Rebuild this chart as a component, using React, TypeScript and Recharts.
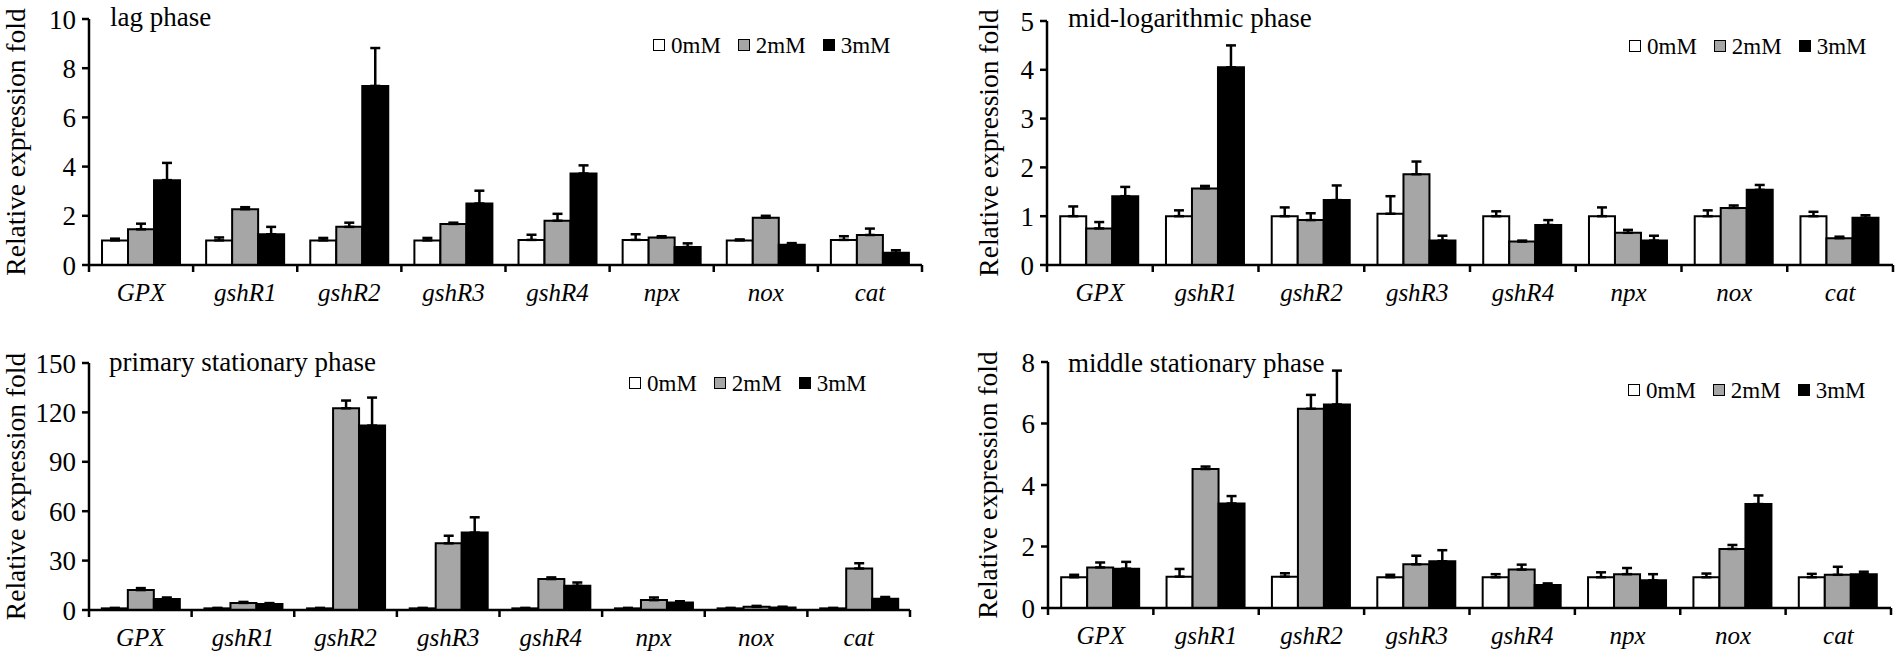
import React from 'react';
import { BarChart, Bar, XAxis, YAxis, ErrorBar, Label } from 'recharts';

const FONT = '"Liberation Serif", "Times New Roman", serif';

const genes = ['GPX', 'gshR1', 'gshR2', 'gshR3', 'gshR4', 'npx', 'nox', 'cat'];
const doses = ['0mM', '2mM', '3mM'];

// lag phase
const lag0 = [1.0, 1.0, 1.0, 1.0, 1.02, 1.02, 1.0, 1.02];
const lag0Err = [0.07, 0.12, 0.1, 0.1, 0.21, 0.23, 0.04, 0.15];
const lag2 = [1.45, 2.27, 1.55, 1.67, 1.8, 1.12, 1.92, 1.22];
const lag2Err = [0.23, 0.08, 0.17, 0.05, 0.28, 0.05, 0.08, 0.26];
const lag3 = [3.45, 1.25, 7.28, 2.5, 3.72, 0.73, 0.82, 0.5];
const lag3Err = [0.7, 0.3, 1.54, 0.52, 0.33, 0.15, 0.07, 0.1];

// mid-logarithmic phase
const mid0 = [1.0, 1.0, 1.0, 1.05, 1.0, 1.0, 1.0, 1.0];
const mid0Err = [0.2, 0.12, 0.18, 0.36, 0.1, 0.18, 0.12, 0.09];
const mid2 = [0.75, 1.57, 0.92, 1.86, 0.48, 0.66, 1.17, 0.55];
const mid2Err = [0.13, 0.05, 0.14, 0.26, 0.02, 0.06, 0.05, 0.03];
const mid3 = [1.41, 4.05, 1.33, 0.5, 0.82, 0.5, 1.54, 0.97];
const mid3Err = [0.19, 0.45, 0.3, 0.1, 0.1, 0.1, 0.1, 0.05];

// primary stationary phase
const pri0 = [1.0, 1.0, 1.0, 1.0, 1.0, 1.0, 1.0, 1.0];
const pri0Err = [0.3, 0.3, 0.3, 0.3, 0.3, 0.3, 0.3, 0.3];
const pri2 = [12.1, 4.3, 122.5, 40.5, 18.8, 6.0, 1.9, 25.2];
const pri2Err = [1.2, 0.6, 4.7, 4.6, 1.0, 1.6, 0.6, 3.2];
const pri3 = [6.7, 3.6, 112, 47, 14.7, 4.5, 1.5, 6.9];
const pri3Err = [0.9, 0.6, 17, 9.3, 2.0, 0.8, 0.5, 1.0];

// middle stationary phase
const sta0 = [1.0, 1.02, 1.02, 1.0, 1.0, 1.0, 1.0, 1.0];
const sta0Err = [0.08, 0.25, 0.11, 0.08, 0.1, 0.16, 0.12, 0.11];
const sta2 = [1.32, 4.52, 6.48, 1.42, 1.25, 1.1, 1.92, 1.08];
const sta2Err = [0.16, 0.08, 0.45, 0.28, 0.16, 0.2, 0.13, 0.26];
const sta3 = [1.28, 3.4, 6.62, 1.52, 0.75, 0.9, 3.38, 1.1];
const sta3Err = [0.22, 0.24, 1.1, 0.36, 0.05, 0.2, 0.28, 0.08];

const fills = ['#ffffff', '#a6a6a6', '#000000'];

const panels = [
  {
    title: 'lag phase', values: [lag0, lag2, lag3], errors: [lag0Err, lag2Err, lag3Err],
    max: 10, ticks: [0, 2, 4, 6, 8, 10],
    left: 0, top: 0, width: 950, height: 330, axisWidth: 89, labelOffset: 15,
    margin: { top: 19, right: 28, bottom: 25, left: 0 },
    titlePos: [110, 27], legendPos: [653, 45],
  },
  {
    title: 'mid-logarithmic phase', values: [mid0, mid2, mid3], errors: [mid0Err, mid2Err, mid3Err],
    max: 5, ticks: [0, 1, 2, 3, 4, 5],
    left: 960, top: 0, width: 942, height: 330, axisWidth: 87, labelOffset: 28,
    margin: { top: 21, right: 9, bottom: 25, left: 0 },
    titlePos: [1068, 28], legendPos: [1629, 46],
  },
  {
    title: 'primary stationary phase', values: [pri0, pri2, pri3], errors: [pri0Err, pri2Err, pri3Err],
    max: 150, ticks: [0, 30, 60, 90, 120, 150],
    left: 0, top: 330, width: 950, height: 326, axisWidth: 89, labelOffset: 15,
    margin: { top: 33, right: 40, bottom: 6, left: 0 },
    titlePos: [109, 372], legendPos: [629, 383],
  },
  {
    title: 'middle stationary phase', values: [sta0, sta2, sta3], errors: [sta0Err, sta2Err, sta3Err],
    max: 8, ticks: [0, 2, 4, 6, 8],
    left: 960, top: 330, width: 942, height: 326, axisWidth: 88, labelOffset: 27,
    margin: { top: 32, right: 11, bottom: 8, left: 0 },
    titlePos: [1068, 373], legendPos: [1628, 390],
  },
];

// category label plus boundary tick marks between genes
const GeneTick = (props: any) => {
  const { x, y, payload, index, visibleTicksCount } = props;
  const half = payload && payload.offset ? payload.offset : 52;
  const last = index === (visibleTicksCount || genes.length) - 1;
  return (
    <g>
      <line x1={x - half} x2={x - half} y1={y - 9} y2={y - 2} stroke="#000" strokeWidth={2.5} />
      {last && <line x1={x + half} x2={x + half} y1={y - 9} y2={y - 2} stroke="#000" strokeWidth={2.5} />}
      <text x={x} y={y + 27} textAnchor="middle" fontSize={25} fontStyle="italic" fontFamily={FONT} fill="#000">
        {payload.value}
      </text>
    </g>
  );
};

const Legend = ({ pos }: { pos: number[] }) => (
  <div style={{ position: 'absolute', left: pos[0], top: pos[1] - 12, height: 24, display: 'flex', alignItems: 'center', fontFamily: FONT, fontSize: 23, lineHeight: 1 }}>
    {doses.map((d, i) => (
      <div key={d} style={{ display: 'flex', alignItems: 'center', marginRight: i < doses.length - 1 ? 17 : 0 }}>
        <div style={{ width: 12, height: 12, boxSizing: 'border-box', border: '1.5px solid #000', background: fills[i], marginRight: 6 }} />
        <span>{d}</span>
      </div>
    ))}
  </div>
);

const Panel = ({ cfg }: { cfg: any }) => {
  const data = genes.map((g, i) => ({
    gene: g,
    c0: cfg.values[0][i], c1: cfg.values[1][i], c2: cfg.values[2][i],
    e0: [0, cfg.errors[0][i]], e1: [0, cfg.errors[1][i]], e2: [0, cfg.errors[2][i]],
  }));
  return (
    <>
      <div style={{ position: 'absolute', left: cfg.left, top: cfg.top }}>
        <BarChart width={cfg.width} height={cfg.height} data={data} margin={cfg.margin} barCategoryGap="12.5%" barGap={0}>
          <XAxis
            dataKey="gene"
            interval={0}
            height={40}
            tickLine={false}
            tickSize={7}
            tickMargin={2}
            axisLine={{ stroke: '#000', strokeWidth: 2.5 }}
            tick={<GeneTick />}
          />
          <YAxis
            width={cfg.axisWidth}
            domain={[0, cfg.max]}
            ticks={cfg.ticks}
            interval={0}
            allowDataOverflow
            tickSize={7}
            tickMargin={6}
            axisLine={{ stroke: '#000', strokeWidth: 2.5 }}
            tickLine={{ stroke: '#000', strokeWidth: 2.5 }}
            tick={{ fill: '#000', fontSize: 27, fontFamily: FONT }}
          >
            <Label
              value="Relative expression fold"
              angle={-90}
              position="insideLeft"
              offset={cfg.labelOffset}
              style={{ textAnchor: 'middle', fontSize: 27.5, fontFamily: FONT, fill: '#000' }}
            />
          </YAxis>
          {[0, 1, 2].map((k) => (
            <Bar key={k} dataKey={'c' + k} fill={fills[k]} stroke="#000" strokeWidth={2} isAnimationActive={false}>
              <ErrorBar dataKey={'e' + k} width={5} stroke="#000" strokeWidth={2.5} direction="y" />
            </Bar>
          ))}
        </BarChart>
      </div>
      <div style={{ position: 'absolute', left: cfg.titlePos[0], top: cfg.titlePos[1] - 22.6, fontFamily: FONT, fontSize: 27, lineHeight: '27px', whiteSpace: 'nowrap' }}>
        {cfg.title}
      </div>
      <Legend pos={cfg.legendPos} />
    </>
  );
};

export default function App() {
  return (
    <div style={{ position: 'absolute', left: 0, top: 0, width: 1902, height: 656, overflow: 'hidden', background: '#fff', color: '#000' }}>
      {panels.map((p) => (
        <Panel key={p.title} cfg={p} />
      ))}
    </div>
  );
}
